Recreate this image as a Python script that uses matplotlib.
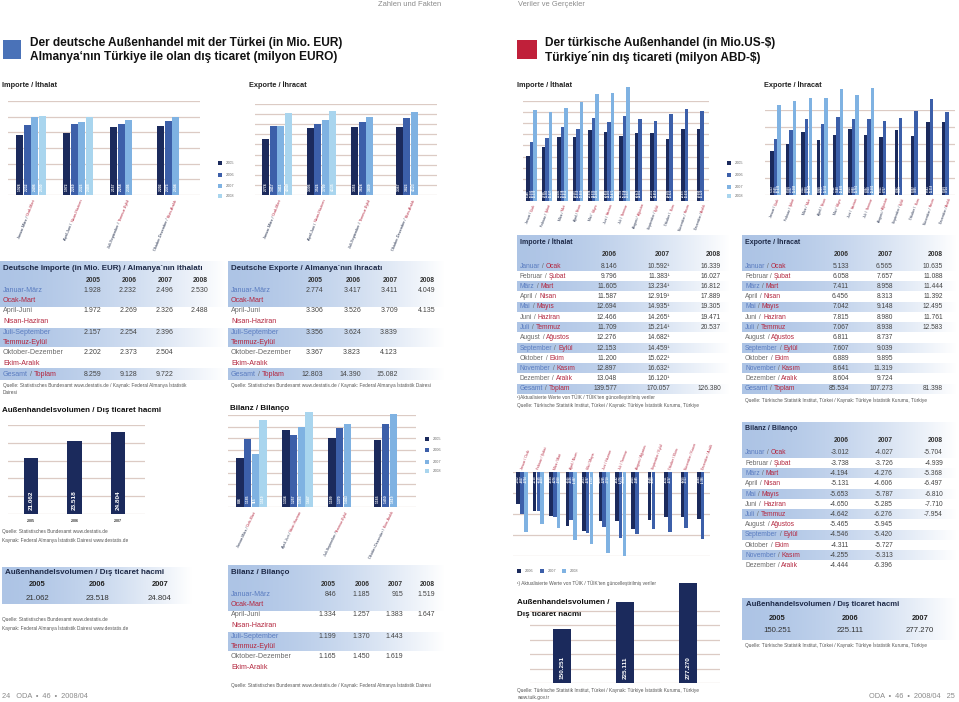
import numpy as np
import matplotlib.pyplot as plt
from matplotlib.font_manager import FontProperties
from matplotlib.transforms import offset_copy

plt.rcParams['font.family'] = ['Liberation Sans', 'DejaVu Sans']

W, H = 959, 702

# ---------------- data ----------------
years_de = ['2005', '2006', '2007', '2008']
quarters_de = ['Januar-März', 'April-Juni', 'Juli-September', 'Oktober-Dezember']
quarters_tr = ['Ocak-Mart', 'Nisan-Haziran', 'Temmuz-Eylül', 'Ekim-Aralık']

# one list per year (2005..2008), quarters in order
de_import = [[1928, 1972, 2157, 2202],
             [2232, 2269, 2254, 2373],
             [2496, 2326, 2396, 2504],
             [2530, 2488]]
de_import_total = [8259, 9128, 9722]
de_export = [[2774, 3306, 3356, 3367],
             [3417, 3526, 3624, 3823],
             [3411, 3709, 3839, 4123],
             [4049, 4135]]
de_export_total = [12803, 14390, 15082]
de_balance = [[846, 1334, 1199, 1165],
              [1185, 1257, 1370, 1450],
              [915, 1383, 1443, 1619],
              [1519, 1647]]
volume_years = ['2005', '2006', '2007']
de_volume = [21062, 23518, 24804]

years_tr = ['2006', '2007', '2008']
months_de = ['Januar', 'Februar', 'März', 'April', 'Mai', 'Juni', 'Juli',
             'August', 'September', 'Oktober', 'November', 'Dezember']
months_tr = ['Ocak', 'Şubat', 'Mart', 'Nisan', 'Mayıs', 'Haziran', 'Temmuz',
             'Ağustos', 'Eylül', 'Ekim', 'Kasım', 'Aralık']
tr_import = [[8146, 9796, 11605, 11587, 12694, 12466, 11709, 12276, 12153, 11200, 12897, 13048],
             [10592, 11383, 13234, 12919, 14935, 14265, 15214, 14682, 14459, 15622, 16632, 16120],
             [16339, 16027, 16812, 17889, 19305, 19471, 20537]]
tr_import_total = [139577, 170057, 126380]
tr_export = [[5133, 6058, 7411, 6456, 7042, 7815, 7067, 6811, 7607, 6889, 8641, 8604],
             [6565, 7657, 8958, 8313, 9148, 8980, 8938, 8737, 9039, 9895, 11319, 9724],
             [10635, 11088, 11444, 11392, 12495, 11761, 12583]]
tr_export_total = [85534, 107273, 81398]
tr_balance = [[-3012, -3738, -4194, -5131, -5653, -4650, -4642, -5465, -4546, -4311, -4255, -4444],
              [-4027, -3726, -4276, -4606, -5787, -5285, -6276, -5945, -5420, -5727, -5313, -6396],
              [-5704, -4939, -5368, -6497, -6810, -7710, -7954]]
tr_volume = [150251, 225111, 277270]

# ---------------- style ----------------
bar_colors = ['#1b2a5c', '#3c5fa9', '#7fb2e2', '#a9d5ee']
grid_col = '#dccbc4'
blue_txt = '#5a7cc0'
red_txt = '#b3263e'
gray_txt = '#6a6a6a'
dark_txt = '#1e2a48'
src_txt = '#555555'
SRC = 3.45


def fmt(v):
    return f'{v:,}'.replace(',', '.')


fig = plt.figure(figsize=(W / 100, H / 100), dpi=100)
bg = fig.add_axes([0, 0, 1, 1])
bg.set_xlim(0, W)
bg.set_ylim(H, 0)
bg.set_autoscale_on(False)
bg.axis('off')
renderer = fig.canvas.get_renderer()


def text_w(s, size, weight='normal'):
    fp = FontProperties(family=plt.rcParams['font.family'], size=size, weight=weight)
    w, h, d = renderer.get_text_width_height_descent(s, fp, ismath=False)
    return w


def put(x, y, s, size=5, color=dark_txt, weight='normal', ha='left', va='center', **kw):
    bg.text(x, y, s, fontsize=size, color=color, fontweight=weight, ha=ha, va=va, **kw)


def two_tone(x, y, a, b, c1, size):
    put(x, y, a, size, c1)
    x += text_w(a, size)
    put(x, y, ' / ', size, gray_txt)
    x += text_w(' / ', size)
    put(x, y, b, size, red_txt)


def band(x0, x1, y0, y1, c=(0.68, 0.77, 0.90), p=1.6):
    t = np.linspace(0, 1, 200) ** p
    img = np.ones((1, 200, 3))
    for k in range(3):
        img[0, :, k] = c[k] + (1 - c[k]) * t
    bg.imshow(img, extent=(x0, x1, y1, y0), aspect='auto', interpolation='bilinear', zorder=0)


def px_axes(x0, y0, x1, y1):
    ax = fig.add_axes([x0 / W, 1 - y1 / H, (x1 - x0) / W, (y1 - y0) / H])
    ax.set_facecolor('none')
    ax.axis('off')
    return ax


def bar_chart(box, series, ylim, grid, slot, xl, colors, lab_size, down=False):
    ax = px_axes(*box)
    for g in grid:
        ax.axhline(g, color=grid_col, lw=0.9, zorder=0)
    n = len(series)
    rng = ylim[1] - ylim[0]
    base = ylim[0] if ylim[0] > 0 else 0
    for k, vals in enumerate(series):
        xs = np.arange(len(vals)) + (k - (n - 1) / 2) * slot
        ax.bar(xs, np.array(vals) - base, bottom=base, width=slot * 0.95,
               color=colors[k], zorder=2, clip_on=False)
        for x, v in zip(xs, vals):
            if down:
                ax.text(x, ylim[1] - 0.04 * rng, fmt(v), rotation=90, ha='center', va='top',
                        color='white', fontsize=lab_size, fontweight='bold', zorder=3)
            else:
                ax.text(x, ylim[0] + 0.04 * rng, fmt(v), rotation=90, ha='center', va='bottom',
                        color='white', fontsize=lab_size, fontweight='bold', zorder=3)
    ax.set_xlim(*xl)
    ax.set_ylim(*ylim)
    return ax


def cat_labels(ax, names_a, names_b, size, angle, dx, dy, col_a=dark_txt):
    ang = np.radians(angle)
    for i, (a, b) in enumerate(zip(names_a, names_b)):
        tr = offset_copy(ax.get_xaxis_transform(), fig=fig, x=dx, y=-dy, units='dots')
        ax.text(i, 0, b, transform=tr, rotation=angle, rotation_mode='anchor',
                ha='right', va='center', color=red_txt, fontsize=size)
        wb = text_w(b, size)
        tr2 = offset_copy(ax.get_xaxis_transform(), fig=fig, x=dx - wb * np.cos(ang),
                          y=-dy - wb * np.sin(ang), units='dots')
        ax.text(i, 0, a + ' / ', transform=tr2, rotation=angle, rotation_mode='anchor',
                ha='right', va='center', color=col_a, fontsize=size)


def legend(x, ys, labels, colors, size=2.8):
    for y, lab, c in zip(ys, labels, colors):
        bg.add_patch(plt.Rectangle((x, y - 2), 4, 4, color=c, lw=0))
        put(x + 8, y, lab, size, gray_txt)


# ---------------- header ----------------
put(410, 5, 'Zahlen und Fakten', 5.4, '#8a8a8a', ha='center')
put(518, 5, 'Veriler ve Gerçekler', 5.4, '#8a8a8a')
bg.add_patch(plt.Rectangle((3, 40), 18, 19, color='#4a72b8', lw=0))
put(30, 43, 'Der deutsche Außenhandel mit der Türkei (in Mio. EUR)', 8.6, '#111111', 'bold')
put(30, 57, 'Almanya\u2018nın Türkiye ile olan dış ticaret (milyon EURO)', 8.6, '#111111', 'bold')
bg.add_patch(plt.Rectangle((517, 40), 20, 19, color='#c0203a', lw=0))
put(545, 43, 'Der türkische Außenhandel (in Mio.US-$)', 8.6, '#111111', 'bold')
put(545, 57, 'Türkiye´nin dış ticareti (milyon ABD-$)', 8.6, '#111111', 'bold')
put(2, 85, 'Importe / İthalat', 5.3, '#222222', 'bold')
put(249, 85, 'Exporte / İhracat', 5.3, '#222222', 'bold')
put(517, 85, 'Importe / İthalat', 5.3, '#222222', 'bold')
put(764, 85, 'Exporte / İhracat', 5.3, '#222222', 'bold')

# ---------------- German charts ----------------
ax = bar_chart((8, 101, 200, 195), de_import, (0, 3000), np.arange(0, 3001, 500),
               0.16, (-0.49, 3.6), bar_colors, 2.4)
cat_labels(ax, quarters_de, quarters_tr, 2.8, 68, 4, 4)
legend(218, [163, 175, 186, 196], years_de, bar_colors)

ax = bar_chart((255, 104, 437, 195), de_export, (0, 4500), np.arange(0, 4501, 500),
               0.168, (-0.494, 3.6), bar_colors, 2.4)
cat_labels(ax, quarters_de, quarters_tr, 2.8, 68, 4, 4)

ax = bar_chart((228, 415, 416, 507), de_balance, (0, 1600), np.arange(0, 1601, 200),
               0.167, (-0.51, 3.58), bar_colors, 2.4)
cat_labels(ax, quarters_de, quarters_tr, 2.6, 64, 4, 4)
legend(425, [439, 450, 462, 471], years_de, bar_colors)

ax = bar_chart((8, 425, 145, 514), [de_volume], (13000, 25800), np.linspace(13000, 25800, 6),
               0.345, (-0.53, 2.62), [bar_colors[0]], 4.6)
for i, y in enumerate(volume_years):
    ax.text(i, -0.08, y, transform=ax.get_xaxis_transform(), ha='center', va='center',
            fontsize=2.6, fontweight='bold', color='#333333')


# ---------------- German tables ----------------
def quarter_table(x0, x1, y0, title, cols, data, total, src):
    band(x0, x1, y0 - 7, y0 + 39)
    band(x0, x1, y0 + 60, y0 + 79)
    if total:
        band(x0, x1, y0 + 100, y0 + 112)
    put(x0 + 3, y0, title, 5.7, dark_txt, 'bold')
    for c, yr in zip(cols, years_de):
        put(c, y0 + 12, yr, 4.9, '#333333', 'bold', ha='right')
    for i in range(4):
        yy = y0 + 22 + 21 * i
        put(x0 + 3, yy, quarters_de[i], 5.1, blue_txt if i % 2 == 0 else gray_txt)
        put(x0 + 3, yy + 10.5, quarters_tr[i], 5.1, red_txt)
        for k, c in enumerate(cols):
            if i < len(data[k]):
                put(c, yy, fmt(data[k][i]), 5.0, '#444444', ha='right')
    yy = y0 + 106
    if total:
        two_tone(x0 + 3, yy, 'Gesamt', 'Toplam', blue_txt, 5.1)
        for c, v in zip(cols, total):
            put(c, yy, fmt(v), 5.0, '#444444', ha='right')
    for j, line in enumerate(src):
        put(x0 + 3, y0 + (117 if total else 113) + 8 * j, line, SRC, src_txt)


quarter_table(0, 226, 268, 'Deutsche Importe (in Mio. EUR) / Almanya´nın ithalatı',
              [101, 137, 173, 208], de_import, de_import_total,
              ['Quelle: Statistisches Bundesamt www.destatis.de / Kaynak: Federal Almanya İstatistik',
               'Dairesi'])
quarter_table(228, 445, 268, 'Deutsche Exporte / Almanya´nın ihracatı',
              [323, 361, 398, 435], de_export, de_export_total,
              ['Quelle: Statistisches Bundesamt www.destatis.de / Kaynak: Federal Almanya İstatistik Dairesi'])
quarter_table(228, 445, 572, 'Bilanz / Bilanço',
              [336, 370, 403, 435], de_balance, None,
              ['Quelle: Statistisches Bundesamt www.destatis.de / Kaynak: Federal Almanya İstatistik Dairesi'])

put(2, 410, 'Außenhandelsvolumen / Dış ticaret hacmi', 5.8, '#111111', 'bold')
put(230, 409, 'Bilanz / Bilanço', 5.8, '#111111', 'bold')
put(2, 532, 'Quelle: Statistisches Bundesamt www.destatis.de', SRC, src_txt)
put(2, 540, 'Kaynak: Federal Almanya İstatistik Dairesi www.destatis.de', SRC, src_txt)

band(2, 192, 567, 604)
put(5, 573, 'Außenhandelsvolumen / Dış ticaret hacmi', 5.8, dark_txt, 'bold')
for c, yr, v in zip([37, 97, 160], volume_years, de_volume):
    put(c, 585, yr, 5.4, '#222222', 'bold', ha='center')
    put(c, 598, fmt(v), 5.6, '#333333', ha='center')
put(2, 620, 'Quelle: Statistisches Bundesamt www.destatis.de', SRC, src_txt)
put(2, 628, 'Kaynak: Federal Almanya İstatistik Dairesi www.destatis.de', SRC, src_txt)

put(2, 697, '24   ODA  •  46  •  2008/04', 5.3, '#8a8a8a')
put(955, 697, 'ODA  •  46  •  2008/04   25', 5.3, '#8a8a8a', ha='right')

# ---------------- Turkish charts ----------------
ax = bar_chart((523, 101, 709, 201), tr_import, (0, 18000), np.arange(0, 18001, 2000),
               0.23, (-0.55, 11.45), bar_colors, 1.9)
cat_labels(ax, months_de, months_tr, 2.4, 70, 3, 3)
legend(727, [163, 175, 187, 196], years_de, bar_colors)

ax = bar_chart((765, 110, 955, 195), tr_export, (0, 10000), np.arange(0, 10001, 2000),
               0.23, (-0.67, 11.5), bar_colors, 1.9)
cat_labels(ax, months_de, months_tr, 2.4, 70, 3, 3)

ax = bar_chart((513, 472, 710, 556), tr_balance, (-8000, 0), np.arange(-8000, 1, 2000),
               0.23, (-0.55, 11.45), bar_colors, 1.9, down=True)
for i, (a, b) in enumerate(zip(months_de, months_tr)):
    ax.text(i, 1.03, a + ' / ' + b, transform=ax.get_xaxis_transform(), rotation=70,
            rotation_mode='anchor', ha='left', va='center', fontsize=2.4, color=red_txt)
legend(517, [571], ['2006'], [bar_colors[0]])
legend(540, [571], ['2007'], [bar_colors[1]])
legend(562, [571], ['2008'], [bar_colors[2]])
put(517, 583, '¹) Aktualisierte Werte von TÜIK / TÜIK\u2019ten güncelleştirilmiş veriler', SRC, src_txt)

put(517, 603, 'Außenhandelsvolumen /', 5.8, '#111111', 'bold')
put(517, 615, 'Dış ticaret hacmi', 5.8, '#111111', 'bold')
ax = bar_chart((530, 575, 720, 683), [tr_volume], (0, 300000), np.arange(0, 200001, 40000),
               0.3, (-0.5, 2.5), [bar_colors[0]], 4.6)
put(517, 690, 'Quelle: Türkische Statistik Institut, Türkei / Kaynak: Türkiye İstatistik Kurumu, Türkiye', SRC, src_txt)
put(517, 697, 'www.tuik.gov.tr', SRC, src_txt)


# ---------------- Turkish tables ----------------
def month_table(x0, x1, y0, title, cols, data, total, sup=None):
    band(x0, x1, y0 - 7, y0 + 29)
    put(x0 + 3, y0, title, 5.0, dark_txt, 'bold')
    for c, yr in zip(cols, years_tr):
        put(c, y0 + 12, yr, 4.9, '#333333', 'bold', ha='right')
    for i in range(12):
        yy = y0 + 24 + 10.25 * i
        if i % 2 == 0 and i > 0:
            band(x0, x1, yy - 5, yy + 5)
        two_tone(x0 + 3, yy, months_de[i], months_tr[i], blue_txt if i % 2 == 0 else gray_txt, 4.8)
        for k, c in enumerate(cols):
            if i < len(data[k]):
                s = fmt(data[k][i]) + (sup if (sup and k == 1) else '')
                put(c, yy, s, 4.8, '#444444', ha='right')
    if total:
        yy = y0 + 24 + 10.25 * 12
        band(x0, x1, yy - 5, yy + 5)
        two_tone(x0 + 3, yy, 'Gesamt', 'Toplam', blue_txt, 4.8)
        for c, v in zip(cols, total):
            put(c, yy, fmt(v), 4.8, '#444444', ha='right')


month_table(517, 730, 242, 'Importe / İthalat', [617, 670, 721], tr_import, tr_import_total, sup='¹')
put(517, 397, '¹)Aktualisierte Werte von TÜIK / TÜIK\u2019ten güncelleştirilmiş veriler', SRC, src_txt)
put(517, 405, 'Quelle: Türkische Statistik Institut, Türkei / Kaynak: Türkiye İstatistik Kurumu, Türkiye', SRC, src_txt)

month_table(742, 957, 242, 'Exporte / İhracat', [849, 893, 943], tr_export, tr_export_total)
put(745, 400, 'Quelle: Türkische Statistik Institut, Türkei / Kaynak: Türkiye İstatistik Kurumu, Türkiye', SRC, src_txt)

month_table(742, 957, 429, 'Bilanz / Bilanço', [849, 893, 943], tr_balance, None)

band(742, 957, 598, 640)
put(746, 605, 'Außenhandelsvolumen / Dış ticaret hacmi', 5.6, dark_txt, 'bold')
for c, yr, v in zip([777, 850, 920], volume_years, tr_volume):
    put(c, 618, yr, 5.4, '#222222', 'bold', ha='center')
    put(c, 631, fmt(v), 5.6, '#333333', ha='center')
put(745, 645, 'Quelle: Türkische Statistik Institut, Türkei / Kaynak: Türkiye İstatistik Kurumu, Türkiye', SRC, src_txt)

fig.savefig('out.png', dpi=100)
